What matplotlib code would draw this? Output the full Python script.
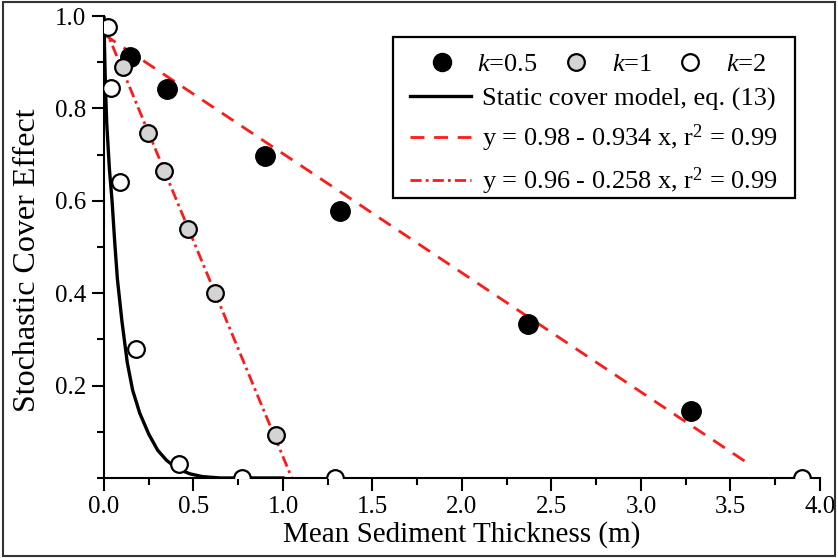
import matplotlib
matplotlib.use("Agg")
import matplotlib.pyplot as plt
from matplotlib.lines import Line2D
from matplotlib.patches import Rectangle
from matplotlib.ticker import MultipleLocator, FixedLocator

plt.rcParams['font.family'] = ['Liberation Serif', 'DejaVu Serif']
plt.rcParams['mathtext.fontset'] = 'custom'
plt.rcParams['mathtext.rm'] = 'Liberation Serif'
plt.rcParams['mathtext.it'] = 'Liberation Serif:italic'

# data
k05_x = [0.145, 0.352, 0.90, 1.32, 2.37, 3.28]
k05_y = [0.912, 0.842, 0.698, 0.577, 0.333, 0.145]

k1_x = [0.107, 0.247, 0.336, 0.47, 0.62, 0.96]
k1_y = [0.890, 0.747, 0.664, 0.538, 0.400, 0.093]

k2_x = [0.02, 0.04, 0.09, 0.18, 0.42, 0.77, 1.29, 3.90]
k2_y = [0.977, 0.845, 0.641, 0.279, 0.030, 0.0, 0.0, 0.0]

# static cover model curve, traced
model_x = [0.0, 0.003, 0.008, 0.015, 0.03, 0.045, 0.06, 0.075, 0.10, 0.13,
           0.16, 0.20, 0.25, 0.30, 0.35, 0.41, 0.48, 0.55, 0.65, 1.0]
model_y = [1.0, 0.93, 0.85, 0.77, 0.67, 0.60, 0.51, 0.43, 0.34, 0.25,
           0.19, 0.14, 0.095, 0.06, 0.038, 0.02, 0.009, 0.003, 0.0, 0.0]

# fitted lines (end points)
steep_x = [0.0, 1.05]
steep_y = [0.98, 0.98 - 0.934 * 1.05]
shallow_x = [0.0, 3.62]
shallow_y = [0.96, 0.96 - 0.258 * 3.62]

labels_pts = ['$k$=0.5', '$k$=1', '$k$=2']
labels_lines = ['Static cover model, eq. (13)',
                'y = 0.98 - 0.934 x, r$^2$ = 0.99',
                'y = 0.96 - 0.258 x, r$^2$ = 0.99']

fig = plt.figure(figsize=(8.38, 5.58), dpi=100)
ax = fig.add_axes([0.1241, 0.1434, 0.8544, 0.8279])

dash_style = (0, (5, 3.5))
dashdot_style = (0, (4, 1.5, 1, 1.5))

ax.plot(model_x, model_y, color='black', lw=2.4, zorder=3)
ax.plot(shallow_x, shallow_y, color='#ff1a1a', lw=2.0, linestyle=dash_style, zorder=2)
ax.plot(steep_x, steep_y, color='#ff1a1a', lw=2.0, linestyle=dashdot_style, zorder=2)

ax.plot(k05_x, k05_y, 'o', ms=14, mfc='black', mec='black', zorder=4)
ax.plot(k1_x, k1_y, 'o', ms=12, mfc='#d4d4d4', mec='black', mew=1.6, zorder=4)
ax.plot(k2_x, k2_y, 'o', ms=12, mfc='white', mec='black', mew=1.6, zorder=4)

ax.set_xlim(0, 4.0)
ax.set_ylim(0, 1.0)
ax.xaxis.set_major_locator(MultipleLocator(0.5))
ax.xaxis.set_minor_locator(MultipleLocator(0.25))
ax.yaxis.set_major_locator(FixedLocator([0.2, 0.4, 0.6, 0.8, 1.0]))
ax.yaxis.set_minor_locator(MultipleLocator(0.1))
ax.tick_params(which='major', direction='out', length=9, width=1.5, labelsize=18, pad=4)
ax.tick_params(which='minor', direction='out', length=5, width=1.5)
for s in ['top', 'right']:
    ax.spines[s].set_visible(False)
for s in ['left', 'bottom']:
    ax.spines[s].set_linewidth(1.5)

ax.set_xlabel('Mean Sediment Thickness (m)', fontsize=21, labelpad=2)
ax.set_ylabel('Stochastic Cover Effect', fontsize=23)
ax.yaxis.set_label_coords(-0.087, 0.472)

pt_handles = [
    Line2D([], [], ls='none', marker='o', ms=13, mfc='black', mec='black'),
    Line2D([], [], ls='none', marker='o', ms=12, mfc='#d4d4d4', mec='black', mew=1.6),
    Line2D([], [], ls='none', marker='o', ms=12, mfc='white', mec='black', mew=1.6),
]
leg1 = ax.legend(pt_handles, labels_pts, ncol=3, loc='upper left',
                 bbox_to_anchor=(0.435, 0.943), frameon=False, fontsize=19,
                 handlelength=1.2, handletextpad=0.75, columnspacing=0.85,
                 borderaxespad=0)
ax.add_artist(leg1)

line_handles = [
    Line2D([], [], color='black', lw=2.4),
    Line2D([], [], color='#ff1a1a', lw=2.0, linestyle=dash_style),
    Line2D([], [], color='#ff1a1a', lw=2.0, linestyle=dashdot_style),
]
ax.legend(line_handles, labels_lines, loc='upper left',
          bbox_to_anchor=(0.413, 0.87), frameon=False, fontsize=19,
          handlelength=2.3, handletextpad=0.4, labelspacing=0.45, borderaxespad=0)

ax.add_patch(Rectangle((0.404, 0.606), 0.561, 0.349, transform=ax.transAxes,
                       fill=False, edgecolor='black', lw=1.6, clip_on=False, zorder=5))

fig.patches.append(Rectangle((0.003, 0.004), 0.994, 0.992, transform=fig.transFigure,
                             fill=False, edgecolor='#333333', lw=1.5))

fig.savefig('out.png', dpi=100)
